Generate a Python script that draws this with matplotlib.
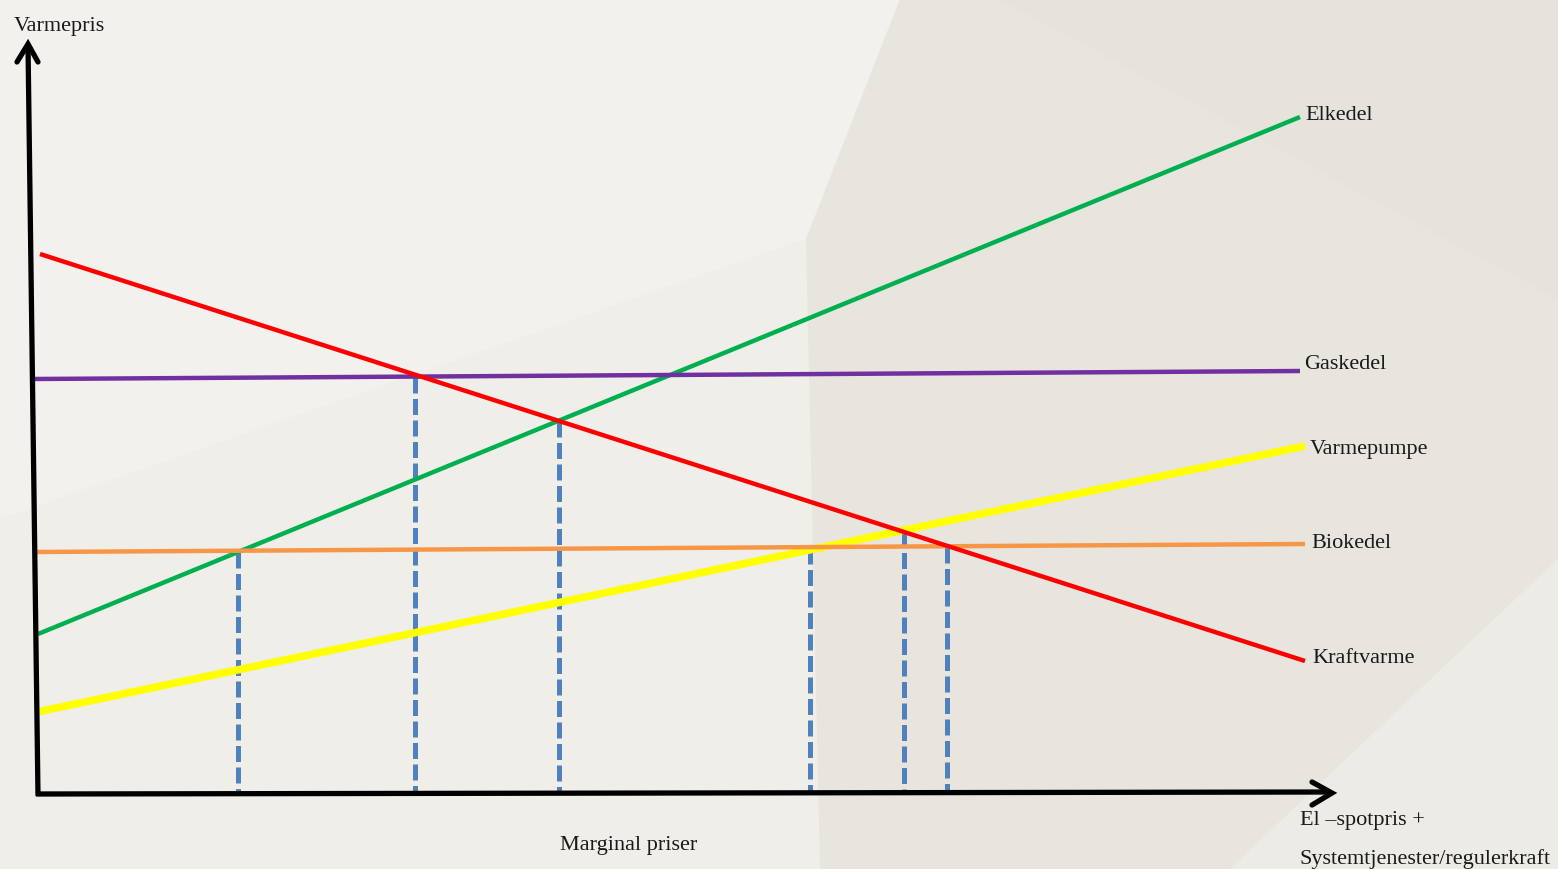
import matplotlib
matplotlib.use("Agg")
import matplotlib.pyplot as plt
from matplotlib.patches import Polygon
import numpy as np

# ---- data (conceptual diagram, in pixel-like units of the reference) ----
series_names = ["Elkedel", "Gaskedel", "Varmepumpe", "Biokedel", "Kraftvarme"]
series_colors = ["#00b050", "#7030a0", "#ffff00", "#f79646", "#ff0000"]
series_widths = [3.2, 3.2, 5.5, 3.2, 3.2]
x_start = [38, 33, 37, 36, 40]
y_start = [635, 380, 713, 553, 255]
x_end = [1300, 1300, 1305, 1305, 1305]
y_end = [118, 372, 447, 545, 662]
label_pos_x = [1305, 1304, 1310, 1311, 1312]
label_pos_y = [115, 365, 450, 544, 659]

# dashed verticals marking the crossings
dashed_x = [238, 415, 559, 810, 904, 947]
dashed_top = [553, 378, 422, 549, 532, 548]
dashed_bottom = 795

y_axis_label = "Varmepris"
x_axis_label_lines = ["El \u2013spotpris +", "Systemtjenester/regulerkraft"]
bottom_label = "Marginal priser"

W, H = 1558, 870
fig = plt.figure(figsize=(W / 100, H / 100), dpi=100)
ax = fig.add_axes([0, 0, 1, 1])
ax.set_xlim(0, W)
ax.set_ylim(H, 0)
ax.axis("off")
fig.patch.set_facecolor("#f2f0ec")

# background facets
bg = [
    ([(0, 0), (900, 0), (806, 240), (0, 520)], "#f3f1ed"),
    ([(0, 520), (806, 240), (820, 870), (0, 870)], "#f0eee9"),
    ([(900, 0), (W, 0), (W, 560), (1230, 870), (820, 870), (806, 240)], "#e8e5de"),
    ([(W, 560), (W, 870), (1230, 870)], "#ecebe5"),
    ([(1000, 0), (W, 0), (W, 300)], "#e6e3dc"),
]
for pts, c in bg:
    ax.add_patch(Polygon(pts, closed=True, facecolor=c, edgecolor="none", zorder=0))

font = ["Liberation Serif", "DejaVu Serif"]
txt_color = "#1a1a1a"
fs = 16

for n, c, w, xs, ys, xe, ye in zip(series_names, series_colors, series_widths,
                                   x_start, y_start, x_end, y_end):
    ax.plot([xs, xe], [ys, ye], color=c, lw=w, solid_capstyle="butt", zorder=3)

for x, yt in zip(dashed_x, dashed_top):
    ax.plot([x, x], [yt, dashed_bottom], color="#4f81bd", lw=3.6,
            linestyle=(0, (3.2, 1.1)), zorder=2)

# axes with arrows
ax.plot([38, 28], [797, 46], color="black", lw=3.8, zorder=5, solid_capstyle="butt")
ax.plot([17, 28, 38], [63, 45, 63], color="black", lw=3.8, zorder=5,
        solid_capstyle="round", solid_joinstyle="miter")
ax.plot([36, 1330], [795, 793], color="black", lw=3.8, zorder=5, solid_capstyle="butt")
ax.plot([1312, 1332, 1312], [783, 794, 806], color="black", lw=3.8, zorder=5,
        solid_capstyle="round", solid_joinstyle="miter")

for n, lx, ly in zip(series_names, label_pos_x, label_pos_y):
    ax.text(lx, ly, n, fontsize=fs, family=font, color=txt_color,
            ha="left", va="center", zorder=6)

ax.text(14, 26, y_axis_label, fontsize=fs, family=font, color=txt_color,
        ha="left", va="center")
ax.text(629, 846, bottom_label, fontsize=fs, family=font, color=txt_color,
        ha="center", va="center")
ax.text(1300, 821, x_axis_label_lines[0], fontsize=fs, family=font, color=txt_color,
        ha="left", va="center")
ax.text(1300, 859, x_axis_label_lines[1], fontsize=fs, family=font,
        color=txt_color, ha="left", va="center")

fig.savefig("out.png", dpi=100, facecolor=fig.get_facecolor())
